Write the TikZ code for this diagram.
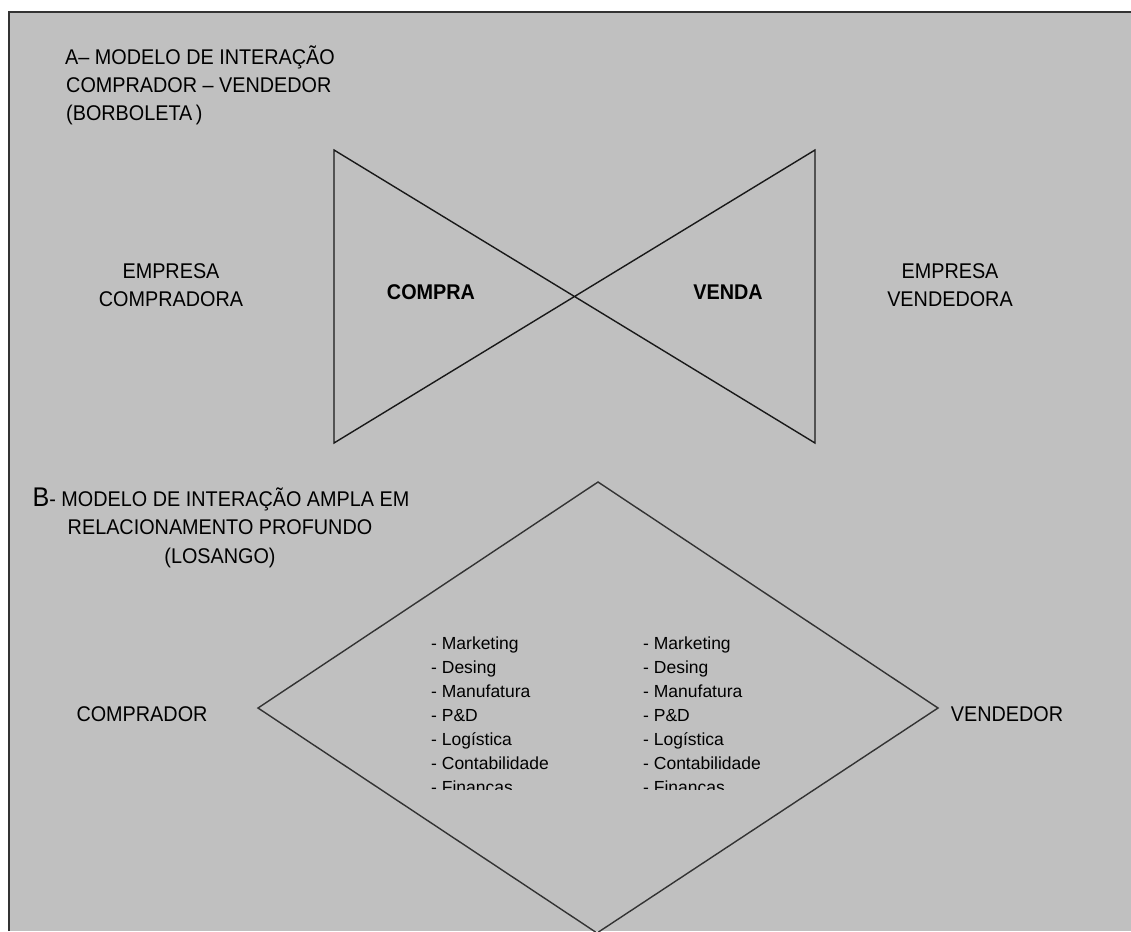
\documentclass[tikz,border=0pt]{standalone}
\usepackage{fontspec}
\setmainfont{Liberation Sans}[FakeStretch=0.93]
\newfontfamily\listfont{Liberation Sans}
\definecolor{panel}{HTML}{C0C0C0}
\definecolor{frameline}{HTML}{333333}
\begin{document}
\begin{tikzpicture}[x=1pt,y=-1pt,
  txt/.style={inner sep=0pt, text=black, font=\fontsize{21.3}{28}\selectfont},
  bold/.style={txt, font=\fontsize{21.3}{28}\selectfont\bfseries},
  item/.style={inner sep=0pt, text=black, anchor=base west, font=\listfont\fontsize{17.5}{24}\selectfont},
  shapeline/.style={draw=black!90, line width=1.4pt, line join=miter},
  frame/.style={draw=frameline, line width=2pt}]
\useasboundingbox (0,0) rectangle (1131,931);
\fill[white] (0,0) rectangle (1131,931);
\fill[panel] (8.5,12.5) rectangle (1131,931);
\draw[frame] (8.5,931) -- (8.5,12.5) -- (1131,12.5);

% --- A: butterfly model ---
\node[txt, anchor=base west] (a1) at (65,65) {A– MODELO DE INTERAÇÃO};
\node[txt, anchor=base west] (a2) at (66,93) {COMPRADOR – VENDEDOR};
\node[txt, anchor=base west] (a3) at (66,121) {(BORBOLETA\,)};

\coordinate (tl) at (334,150);
\coordinate (bl) at (334,443);
\coordinate (tr) at (815,150);
\coordinate (br) at (815,443);
\draw[shapeline] (tl) -- (bl) -- (tr) -- (br) -- (tl) -- cycle;

\node[txt, anchor=base] (ec1) at (171,278) {EMPRESA};
\node[txt, anchor=base] (ec2) at (171,306) {COMPRADORA};
\node[bold, anchor=base] (compra) at (431,299) {COMPRA};
\node[bold, anchor=base] (venda) at (728,299) {VENDA};
\node[txt, anchor=base] (ev1) at (950,278) {EMPRESA};
\node[txt, anchor=base] (ev2) at (950,306) {VENDEDORA};

% --- B: diamond model ---
\node[txt, anchor=base] (b1) at (221,506) {{\fontsize{27}{28}\selectfont B}- MODELO DE INTERAÇÃO AMPLA EM};
\node[txt, anchor=base] (b2) at (220,534) {RELACIONAMENTO PROFUNDO};
\node[txt, anchor=base] (b3) at (220,563) {(LOSANGO)};

\coordinate (dt) at (598,482);
\coordinate (dl) at (258,708);
\coordinate (dr) at (938,708);
\coordinate (db) at (597,933);
\draw[shapeline, draw=frameline] (dt) -- (dr) -- (db) -- (dl) -- cycle;

\node[txt, anchor=base] (comprador) at (142,721) {COMPRADOR};
\node[txt, anchor=base] (vendedor) at (1007,721) {VENDEDOR};

% functional areas, cut off at the bottom of the text frame
\begin{scope}
  \clip (400,600) rectangle (800,789);
  \foreach \t [count=\i] in {Marketing, Desing, Manufatura, P\&D, Logística, Contabilidade, Finanças} {
    \node[item] (lc\i) at (431,625+24*\i) {- \t};
    \node[item] (rc\i) at (643,625+24*\i) {- \t};
  }
\end{scope}
\end{tikzpicture}
\end{document}
